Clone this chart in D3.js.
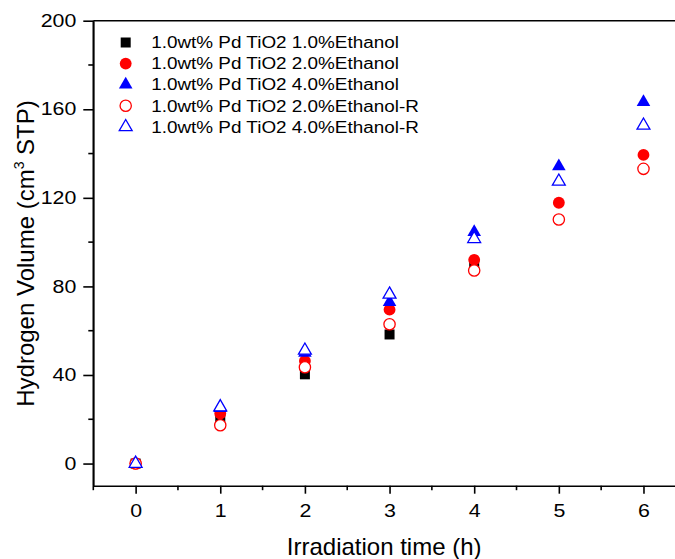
<!DOCTYPE html>
<html>
<head>
<meta charset="utf-8">
<script src="https://cdn.jsdelivr.net/npm/d3@7/dist/d3.min.js"></script>
<style>
  html, body { margin: 0; padding: 0; background: #fff; }
  svg { display: block; font-family: "Liberation Sans", Arial, sans-serif; }
</style>
</head>
<body>
<svg id="chart" width="675" height="559"></svg>
<script>
// Irradiation time (h)
const hours = [0, 1, 2, 3, 4, 5, 6];

// Hydrogen volume (cm3 STP) for each run
const pd1Eth1  = [0, 21, 40.3, 58.3, 90];
const pd1Eth2  = [0, 22.6, 46.3, 69.5, 92, 117.8, 139.4];
const pd1Eth4  = [0, 25, 50, 72.9, 104.5, 134.2, 163.2];
const pd1Eth2R = [0, 17.3, 43.5, 62.9, 87.2, 110.2, 133.1];
const pd1Eth4R = [0, 25.5, 51.1, 76.4, 101.5, 127.4, 152.7];

const seriesNames = [
  "1.0wt% Pd TiO2 1.0%Ethanol",
  "1.0wt% Pd TiO2 2.0%Ethanol",
  "1.0wt% Pd TiO2 4.0%Ethanol",
  "1.0wt% Pd TiO2 2.0%Ethanol-R",
  "1.0wt% Pd TiO2 4.0%Ethanol-R"
];

const yTicks = [0, 40, 80, 120, 160, 200];
const xTicks = [0, 1, 2, 3, 4, 5, 6];

const series = [
  { name: seriesNames[0], values: pd1Eth1,  shape: d3.symbolSquare,   size: 100, color: "#000000", filled: true },
  { name: seriesNames[1], values: pd1Eth2,  shape: d3.symbolCircle,   size: 110, color: "#ff0000", filled: true },
  { name: seriesNames[2], values: pd1Eth4,  shape: d3.symbolTriangle, size: 80,  color: "#0000ff", filled: true },
  { name: seriesNames[3], values: pd1Eth2R, shape: d3.symbolCircle,   size: 100, color: "#ff0000", filled: false },
  { name: seriesNames[4], values: pd1Eth4R, shape: d3.symbolTriangle, size: 72,  color: "#0000ff", filled: false }
];

// widen a text element horizontally, keeping its anchor
function widen(sel, factor) {
  sel.each(function () {
    const len = this.getComputedTextLength();
    d3.select(this).attr("textLength", len * factor).attr("lengthAdjust", "spacingAndGlyphs");
  });
}

const svg = d3.select("#chart");
const plotLeft = 93.3, plotRight = 685.8, plotTop = 20.7, plotBottom = 485.7;

const x = d3.scaleLinear().domain([-0.5, 6.5]).range([plotLeft, plotRight]);
const y = d3.scaleLinear().domain([-10, 200]).range([plotBottom, plotTop]);

// frame: left and top edges
const frame = svg.append("g").attr("stroke", "#000").attr("stroke-width", 1.6).attr("fill", "none");
frame.append("line").attr("x1", plotLeft).attr("x2", plotLeft).attr("y1", plotTop).attr("y2", plotBottom);
frame.append("line").attr("x1", plotLeft).attr("x2", plotRight).attr("y1", plotTop).attr("y2", plotTop);

// x axis with minor ticks
const xMinor = d3.range(-0.5, 6.51, 0.5).filter(v => !xTicks.includes(v));
const xAxis = svg.append("g").attr("transform", `translate(0,${plotBottom})`)
  .call(d3.axisBottom(x).tickValues(xTicks).tickFormat(d3.format("d")).tickSize(8).tickSizeOuter(0).tickPadding(7));
xAxis.append("g").selectAll("line").data(xMinor).join("line")
  .attr("x1", d => x(d)).attr("x2", d => x(d)).attr("y1", 0).attr("y2", 4.5)
  .attr("stroke", "#000").attr("stroke-width", 1.6);

// y axis with minor ticks
const yMinor = d3.range(20, 200, 40);
const yAxis = svg.append("g").attr("transform", `translate(${plotLeft},0)`)
  .call(d3.axisLeft(y).tickValues(yTicks).tickFormat(d3.format("d")).tickSize(10).tickSizeOuter(0).tickPadding(7));
yAxis.append("g").selectAll("line").data(yMinor).join("line")
  .attr("x1", 0).attr("x2", -5).attr("y1", d => y(d)).attr("y2", d => y(d))
  .attr("stroke", "#000").attr("stroke-width", 1.6);

[xAxis, yAxis].forEach(a => {
  a.select(".domain").attr("stroke-width", 1.6);
  a.selectAll(".tick line").attr("stroke-width", 1.6);
  a.selectAll(".tick text").attr("font-size", 17.5).attr("fill", "#000")
    .attr("font-family", "'Liberation Sans', Arial, sans-serif");
  widen(a.selectAll(".tick text"), 1.22);
});
xAxis.selectAll(".tick text").attr("dy", "0.95em");

// axis titles
svg.append("text")
  .attr("x", (plotLeft + 675) / 2).attr("y", 554.5)
  .attr("text-anchor", "middle").attr("font-size", 24).text("Irradiation time (h)");

const yTitle = svg.append("text")
  .attr("transform", "translate(34,253.5) rotate(-90)")
  .attr("text-anchor", "middle").attr("font-size", 24);
yTitle.append("tspan").text("Hydrogen Volume (cm");
yTitle.append("tspan").attr("font-size", 14).attr("dy", -10).text("3");
yTitle.append("tspan").attr("dy", 10).text(" STP)");

// data markers (open symbols have a white interior)
const marks = svg.append("g");
series.forEach(s => {
  marks.append("g").selectAll("path")
    .data(s.values.map((v, i) => ({ t: hours[i], v })))
    .join("path")
    .attr("transform", d => `translate(${x(d.t)},${y(d.v)})`)
    .attr("d", d3.symbol().type(s.shape).size(s.size))
    .attr("fill", s.filled ? s.color : "#fff")
    .attr("stroke", s.color)
    .attr("stroke-width", s.filled ? 0 : 1.3);
});

// legend
const legend = svg.append("g");
series.forEach((s, i) => {
  const g = legend.append("g").attr("transform", `translate(125.7,${42.5 + i * 21.1})`);
  g.append("path")
    .attr("d", d3.symbol().type(s.shape).size(s.size))
    .attr("fill", s.filled ? s.color : "#fff")
    .attr("stroke", s.color)
    .attr("stroke-width", s.filled ? 0 : 1.3);
  const label = g.append("text").attr("x", 25.5).attr("dy", "0.36em").attr("font-size", 16).text(s.name);
  widen(label, 1.18);
});
</script>
</body>
</html>
